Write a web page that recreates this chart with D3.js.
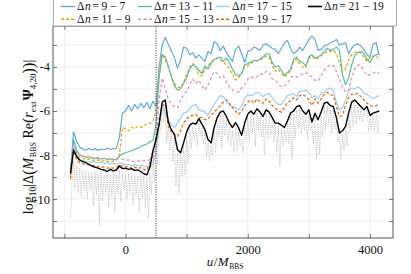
<!DOCTYPE html>
<html>
<head>
<meta charset="utf-8">
<script src="https://d3js.org/d3.v7.min.js"></script>
<style>
  body { margin: 0; background: #fff; }
  svg { display: block; }
  svg text { font-family: "Liberation Serif", "DejaVu Serif", serif; }
</style>
</head>
<body>
<svg id="chart" width="411" height="274"></svg>
<script>
// sampling grids (retarded time u / M_BBS)
var uMain = d3.range(-900, 4151, 50);
var uGray = d3.range(-900, 4151, 25);

// log10 differences
var dn97 = [
  -8.8, -6.95, -7.35, -7.65, -7.72, -7.78, -7.7, -7.76, -7.72, -7.78,
  -7.74, -7.76, -7.7, -7.74, -7.72, -7.7, -7.2, -6.1, -6.0, -5.75,
  -6.0, -5.7, -5.9, -5.65, -5.85, -5.6, -5.9, -5.55, -5.8, -4.0,
  -3.0, -2.65, -2.98, -3.27, -3.58, -4.05, -3.7, -3.1, -3.15, -3.45,
  -3.35, -3.6, -3.45, -3.6, -3.75, -3.3, -3.4, -2.85, -2.95, -3.25,
  -3.05, -3.35, -3.55, -3.75, -3.2, -3.05, -3.4, -3.8, -3.3, -3.25,
  -3.1, -3.15, -3.25, -3.0, -2.95, -3.05, -3.15, -3.2, -3.4, -3.15,
  -2.9, -2.8, -3.15, -3.4, -3.3, -3.1, -3.25, -3.0, -2.75, -2.6,
  -2.75, -3.25, -3.2, -3.05, -3.0, -2.9, -2.85, -2.75, -3.0, -2.95,
  -2.9, -3.4, -3.15, -3.0, -2.95, -3.05, -3.2, -3.45, -3.55, -2.95,
  -2.9, -3.45
];
var dn119 = [
  -9.0, -7.4, -7.9, -8.1, -8.15, -8.2, -8.18, -8.22, -8.25, -8.22,
  -8.28, -8.25, -8.3, -8.28, -8.3, -8.25, -8.0, -6.75, -6.8, -6.9,
  -6.75, -6.8, -6.7, -6.75, -6.65, -6.6, -6.55, -6.45, -6.0, -4.2,
  -3.4, -3.7, -4.0, -4.4, -4.75, -4.9, -4.95, -4.7, -4.35, -4.0,
  -3.85, -3.95, -4.4, -4.4, -4.1, -3.95, -3.75, -3.7, -3.6, -3.7,
  -3.75, -3.9, -4.1, -4.35, -4.6, -4.5, -4.3, -4.0, -3.95, -3.85,
  -3.75, -3.72, -3.7, -3.6, -3.5, -3.55, -3.95, -4.2, -4.1, -4.3,
  -4.45, -4.3, -4.2, -3.75, -3.65, -3.85, -4.0, -4.05, -3.6, -3.5,
  -3.65, -3.6, -3.5, -3.4, -3.3, -3.3, -3.25, -3.4, -3.8, -4.2,
  -4.1, -3.7, -3.45, -3.35, -3.3, -3.35, -3.55, -3.75, -3.6, -3.5,
  -3.5, -3.65
];
var dn1311 = [
  -8.8, -7.3, -7.75, -8.0, -8.05, -8.1, -8.08, -8.12, -8.15, -8.13,
  -8.18, -8.15, -8.2, -8.18, -8.22, -8.2, -8.05, -7.95, -7.9, -7.85,
  -7.8, -7.75, -7.7, -7.6, -7.55, -7.5, -7.4, -7.35, -6.6, -4.5,
  -3.45, -3.55, -3.95, -4.45, -4.85, -5.05, -5.0, -4.75, -4.5, -4.1,
  -3.9, -4.0, -4.15, -4.3, -3.95, -4.1, -3.85, -3.65, -3.6, -3.55,
  -3.75, -3.6, -3.8, -4.1, -4.35, -4.4, -4.3, -3.9, -3.85, -3.78,
  -3.7, -3.72, -3.65, -3.55, -3.4, -3.4, -3.8, -4.0, -3.95, -4.15,
  -4.4, -4.25, -4.1, -3.65, -3.55, -3.75, -3.8, -3.95, -3.55, -3.45,
  -3.6, -3.55, -3.45, -3.3, -3.15, -3.25, -3.2, -3.1, -3.25, -4.35,
  -4.8, -4.5, -3.9, -3.5, -3.35, -3.3, -3.4, -3.65, -3.8, -3.55,
  -3.45, -3.4
];
var dn1513 = [
  -8.9, -7.5, -7.85, -8.0, -8.05, -8.08, -8.1, -8.12, -8.15, -8.13,
  -8.17, -8.15, -8.2, -8.2, -8.18, -8.22, -8.1, -8.2, -8.25, -8.22,
  -8.28, -8.3, -8.27, -8.3, -8.25, -8.28, -8.2, -8.1, -7.6, -5.5,
  -4.5, -5.0, -5.45, -5.7, -5.8, -5.85, -5.55, -5.25, -5.1, -4.8,
  -4.55, -4.75, -4.6, -4.85, -5.05, -4.8, -4.5, -4.2, -4.3, -4.5,
  -4.4, -4.7, -4.9, -5.05, -5.1, -5.15, -4.95, -4.8, -4.55, -4.45,
  -4.5, -4.45, -4.3, -4.35, -4.2, -4.25, -4.55, -4.6, -4.75, -4.9,
  -4.85, -4.75, -4.5, -4.4, -4.45, -4.4, -4.3, -4.25, -4.35, -4.45,
  -4.6, -4.65, -4.4, -4.15, -4.0, -3.9, -3.95, -4.2, -4.55, -4.9,
  -5.15, -5.05, -4.5, -4.1, -3.9, -3.95, -4.15, -4.4, -4.35, -4.3,
  -4.2, -4.3
];
var dn1715 = [
  -8.9, -7.6, -8.0, -8.2, -8.25, -8.28, -8.3, -8.32, -8.3, -8.35,
  -8.33, -8.38, -8.35, -8.4, -8.38, -8.42, -8.35, -8.4, -8.45, -8.42,
  -8.48, -8.45, -8.5, -8.47, -8.52, -8.5, -8.55, -8.4, -7.9, -6.6,
  -5.75, -6.1, -6.4, -6.6, -6.75, -6.55, -6.3, -6.1, -6.05, -5.9,
  -5.75, -5.7, -5.95, -6.0, -6.05, -6.2, -5.95, -5.7, -5.5, -5.3,
  -5.35, -5.55, -5.75, -5.8, -5.85, -5.95, -5.75, -5.45, -5.25, -5.3,
  -5.25, -5.15, -5.2, -5.35, -5.25, -5.2, -5.4, -5.6, -5.7, -5.7,
  -5.5, -5.3, -5.25, -5.2, -5.35, -5.1, -5.1, -5.05, -5.15, -5.4,
  -5.3, -5.45, -5.2, -5.15, -5.0, -4.95, -5.1, -5.6, -5.95, -5.85,
  -5.5, -5.1, -4.95, -5.0, -4.9, -5.0, -5.2, -5.25, -5.35, -5.45,
  -5.35, -5.3
];
var dn1917 = [
  -9.1, -7.8, -8.2, -8.35, -8.4, -8.42, -8.45, -8.47, -8.5, -8.52,
  -8.55, -8.55, -8.6, -8.58, -8.6, -8.55, -8.45, -8.5, -8.55, -8.5,
  -8.6, -8.55, -8.6, -8.58, -8.65, -8.7, -8.3, -7.8, -7.2, -6.6,
  -5.75, -5.7, -6.7, -6.95, -7.1, -7.15, -6.9, -6.55, -6.35, -6.25,
  -6.2, -6.15, -6.3, -6.3, -6.4, -6.35, -6.2, -6.05, -5.9, -5.75,
  -5.6, -5.5, -5.65, -5.85, -6.0, -6.15, -6.0, -5.75, -5.6, -5.5,
  -5.65, -5.45, -5.6, -5.65, -5.45, -5.55, -5.75, -5.85, -6.0, -6.05,
  -5.85, -5.6, -5.55, -5.4, -5.5, -5.3, -5.25, -5.35, -5.5, -5.75,
  -5.45, -5.65, -5.45, -5.25, -5.15, -5.25, -5.3, -5.8, -6.25, -6.2,
  -5.75, -5.4, -5.25, -5.25, -5.2, -5.35, -5.5, -5.65, -5.75, -5.8,
  -5.75, -5.75
];
var dn2119 = [
  -8.83, -7.77, -8.07, -8.23, -8.3, -8.35, -8.42, -8.5, -8.55, -8.6,
  -8.65, -8.68, -8.75, -8.65, -8.72, -8.68, -8.5, -8.62, -8.6, -8.65,
  -8.62, -8.7, -8.68, -8.75, -8.85, -8.9, -8.55, -7.8, -7.3, -6.6,
  -5.6, -5.5, -6.5, -6.85, -7.05, -7.75, -7.9, -7.45, -6.95, -6.65,
  -6.55, -6.6, -6.35, -6.6, -6.85, -7.3, -7.45, -6.75, -6.3, -6.05,
  -6.0, -6.25, -6.55, -6.75, -6.53, -6.76, -7.1, -6.55, -6.15, -6.0,
  -6.15, -5.9, -6.05, -6.25, -5.95, -6.05, -6.3, -6.55, -6.55, -6.65,
  -6.75, -6.45, -6.1, -6.0, -5.8, -5.75, -6.0, -6.15, -5.95, -6.5,
  -6.1, -6.4, -6.05, -5.65, -5.6, -5.75, -5.8, -6.3, -7.0, -6.9,
  -6.7, -6.1, -5.6, -5.5, -5.65, -5.8, -5.95, -5.8, -6.2, -6.1,
  -6.05, -6.0
];
// highest-resolution pair, dotted grey (not in legend)
var dnGray = [
  -10.8, -9.3, -8.2, -9.5, -8.5, -9.7, -8.6, -9.9, -8.7, -9.6,
  -8.75, -10.0, -8.8, -9.5, -8.8, -10.3, -8.75, -9.8, -8.85, -11.2,
  -8.8, -10.1, -8.9, -9.7, -8.85, -10.4, -8.9, -9.9, -8.85, -10.6,
  -8.9, -9.8, -8.7, -10.1, -8.85, -9.6, -8.9, -10.0, -8.85, -9.7,
  -8.9, -10.3, -8.9, -9.8, -8.95, -10.6, -8.9, -9.9, -8.95, -10.4,
  -9.0, -10.9, -8.8, -9.8, -8.0, -9.2, -7.5, -8.4, -6.9, -6.9,
  -5.75, -6.5, -5.7, -7.4, -6.7, -7.8, -7.0, -8.3, -7.2, -9.4,
  -7.9, -9.8, -8.0, -9.0, -7.6, -8.9, -7.1, -8.4, -6.8, -7.7,
  -6.7, -7.3, -6.75, -7.6, -6.5, -7.2, -6.75, -7.5, -7.0, -8.1,
  -7.45, -8.3, -7.55, -8.0, -6.9, -7.9, -6.45, -7.2, -6.2, -7.7,
  -6.15, -7.1, -6.4, -7.4, -6.7, -7.6, -6.9, -7.9, -6.7, -7.8,
  -6.9, -7.6, -7.25, -7.9, -6.7, -7.3, -6.3, -7.4, -6.15, -7.0,
  -6.3, -7.6, -6.05, -6.9, -6.2, -7.2, -6.4, -8.0, -6.1, -7.3,
  -6.2, -7.1, -6.45, -7.4, -6.7, -7.9, -6.7, -8.5, -6.8, -7.6,
  -6.9, -7.4, -6.6, -7.5, -6.25, -8.2, -6.15, -7.3, -5.95, -6.8,
  -5.9, -7.0, -6.15, -6.9, -6.3, -7.3, -6.1, -6.9, -6.65, -7.5,
  -6.25, -8.2, -6.55, -8.0, -6.2, -7.2, -5.8, -6.9, -5.75, -6.6,
  -5.9, -7.0, -5.95, -6.8, -6.45, -7.4, -7.15, -8.2, -7.05, -7.8,
  -6.85, -7.6, -6.25, -6.9, -5.75, -6.7, -5.65, -6.6, -5.8, -6.4,
  -5.95, -6.5, -6.1, -6.3, -5.95, -6.9, -6.35, -6.8, -6.25, -6.9,
  -6.2, -7.0, -6.15
];

var legendNames = ["9 \u2212 7", "13 \u2212 11", "17 \u2212 15", "21 \u2212 19",
                   "11 \u2212 9", "15 \u2212 13", "19 \u2212 17"];
var xTicks = [-1000, 0, 1000, 2000, 3000, 4000];
var yTicks = [-11, -10, -9, -8, -7, -6, -5, -4, -3];

var series = [
  {vals: dn97,  color: "#62a8d9", dash: null,  w: 1.2},
  {vals: dn119, color: "#eaa100", dash: "3,2", w: 1.2},
  {vals: dn1311, color: "#55c09c", dash: null, w: 1.2},
  {vals: dn1513, color: "#d98cc1", dash: "3,2.5", w: 1.2},
  {vals: dn1715, color: "#98d0f1", dash: null, w: 1.2},
  {vals: dn1917, color: "#e0680c", dash: "3,2", w: 1.2},
  {vals: dn2119, color: "#000000", dash: null, w: 1.4}
];

var L = 53, R = 393, T = 26, B = 238;
var FONT = "Liberation Serif";
var svg = d3.select("#chart");

var x = d3.scaleLinear().domain([-1186, 4376]).range([L, R]);
var y = d3.scaleLinear().domain([-11.77, -2.14]).range([B, T]);

// text made of pieces laid out one after another (explicit x for each piece)
function richText(parent, x0, y0, parts, anchor, transform) {
  var t = parent.append("text").attr("fill", "#111").attr("font-family", FONT);
  if (transform) t.attr("transform", transform);
  var cx = x0, spans = [];
  parts.forEach(function(p){
    var s = t.append("tspan")
      .attr("x", cx).attr("y", y0 + (p.shift || 0))
      .attr("font-size", p.size || 12)
      .text(p.t);
    if (p.italic) s.attr("font-style", "italic");
    if (p.bold) s.attr("font-weight", "bold");
    cx += s.node().getComputedTextLength() + (p.gap || 0);
    spans.push(s);
  });
  if (anchor === "middle") {
    var off = (cx - x0) / 2;
    spans.forEach(function(s){ s.attr("x", +s.attr("x") - off); });
  }
  return t;
}

svg.append("clipPath").attr("id", "plotclip")
  .append("rect").attr("x", L).attr("y", T).attr("width", R - L).attr("height", B - T);

// grid
var grid = svg.append("g").attr("stroke", "#ececec").attr("stroke-width", 0.8);
xTicks.forEach(function(t){
  grid.append("line").attr("x1", x(t)).attr("x2", x(t)).attr("y1", T).attr("y2", B);
});
yTicks.forEach(function(t){
  grid.append("line").attr("x1", L).attr("x2", R).attr("y1", y(t)).attr("y2", y(t));
});

var plot = svg.append("g").attr("clip-path", "url(#plotclip)");

// grey dotted
plot.append("path")
  .datum(dnGray)
  .attr("fill", "none")
  .attr("stroke", "#b4b4b4")
  .attr("stroke-width", 0.8)
  .attr("stroke-dasharray", "1,1.2")
  .attr("d", d3.line().x(function(d, i){ return x(uGray[i]); }).y(function(d){ return y(d); }));

series.forEach(function(s){
  plot.append("path")
    .datum(s.vals)
    .attr("fill", "none")
    .attr("stroke", s.color)
    .attr("stroke-width", s.w)
    .attr("stroke-linejoin", "round")
    .attr("stroke-dasharray", s.dash)
    .attr("d", d3.line().x(function(d, i){ return x(uMain[i]); }).y(function(d){ return y(d); }));
});

// vertical marker at u = 500
svg.append("line")
  .attr("x1", x(500)).attr("x2", x(500)).attr("y1", T).attr("y2", B)
  .attr("stroke", "#222").attr("stroke-width", 0.8).attr("stroke-dasharray", "1.2,1.2");

// axes, ticks pointing inwards
var fmtX = function(d){ return d % 2000 === 0 ? d : ""; };
var fmtY = function(d){ return d % 2 === 0 ? String(d) : ""; };

var gx = svg.append("g").attr("transform", "translate(0," + B + ")")
  .call(d3.axisBottom(x).tickValues(xTicks).tickSize(-4).tickPadding(7).tickFormat(fmtX));
var gxt = svg.append("g").attr("transform", "translate(0," + T + ")")
  .call(d3.axisTop(x).tickValues(xTicks).tickSize(-4).tickFormat(""));
var gy = svg.append("g").attr("transform", "translate(" + L + ",0)")
  .call(d3.axisLeft(y).tickValues(yTicks).tickSize(-4).tickPadding(3).tickFormat(fmtY));
var gyr = svg.append("g").attr("transform", "translate(" + R + ",0)")
  .call(d3.axisRight(y).tickValues(yTicks).tickSize(-4).tickFormat(""));

[gx, gxt, gy, gyr].forEach(function(g){
  g.attr("font-family", FONT).attr("font-size", 12.5);
  g.select(".domain").remove();
  g.selectAll(".tick line").attr("stroke", "#555").attr("stroke-width", 0.8);
  g.selectAll("text").attr("fill", "#111");
});

svg.append("rect").attr("x", L).attr("y", T).attr("width", R - L).attr("height", B - T)
  .attr("fill", "none").attr("stroke", "#555").attr("stroke-width", 1);

// legend
var lg = svg.append("g");
lg.append("rect").attr("x", 53.5).attr("y", -1).attr("width", 343).attr("height", 27)
  .attr("fill", "#fff").attr("stroke", "#999").attr("stroke-width", 0.8);
var legendPos = [[61, 10], [138, 10], [216, 10], [308, 10], [61, 22.8], [138, 22.8], [216, 22.8]];
var order = [0, 2, 4, 6, 1, 3, 5];
order.forEach(function(si, k){
  var s = series[si], p = legendPos[k];
  lg.append("line").attr("x1", p[0]).attr("x2", p[0] + 14).attr("y1", p[1] - 3.5).attr("y2", p[1] - 3.5)
    .attr("stroke", s.color).attr("stroke-width", s.w + 0.2).attr("stroke-dasharray", s.dash);
  richText(lg, p[0] + 16, p[1], [
    {t: "\u0394", size: 11.5, gap: 0.5},
    {t: "n", size: 11.5, italic: true, gap: 1.5},
    {t: "= " + legendNames[k], size: 11.5}
  ]);
});

// axis labels
richText(svg, 225, 266, [
  {t: "u", size: 13, italic: true, gap: 0.5},
  {t: "/", size: 13, gap: 0.5},
  {t: "M", size: 13, italic: true, gap: 0.5},
  {t: "BBS", size: 7.5, shift: 2.5}
], "middle");

richText(svg, 0, 0, [
  {t: "log", size: 14},
  {t: "10", size: 9.5, shift: 3},
  {t: "|\u0394", size: 14},
  {t: "(", size: 17, shift: 1},
  {t: "M", size: 14, italic: true, gap: 0.5},
  {t: "BBS", size: 8, shift: 3},
  {t: " Re", size: 14},
  {t: "(", size: 16, shift: 1},
  {t: "r", size: 14, italic: true},
  {t: "ext", size: 9, shift: 3, gap: 1},
  {t: "\u03a8", size: 14, bold: true},
  {t: "4,20", size: 9, shift: 3},
  {t: ")", size: 16, shift: 1},
  {t: ")", size: 17, shift: 1},
  {t: "|", size: 14}
], "middle", "translate(33,137) rotate(-90)");
</script>
</body>
</html>
